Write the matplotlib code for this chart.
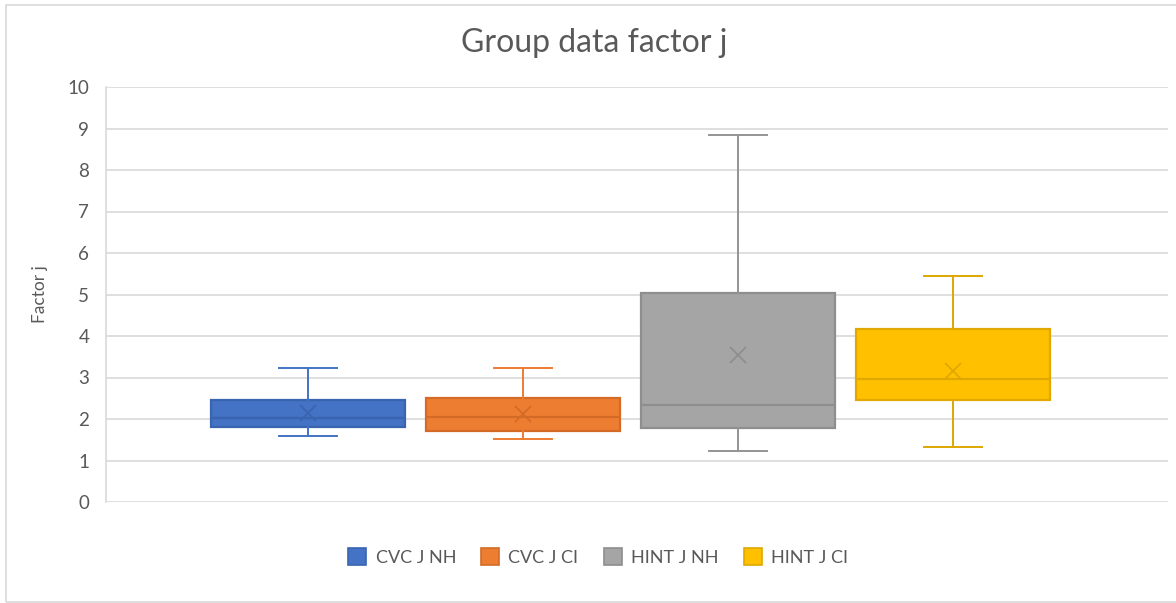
#!/usr/bin/env python3
import matplotlib
matplotlib.use("Agg")
import matplotlib.pyplot as plt
from matplotlib.patches import Patch, Rectangle

plt.rcParams["font.family"] = ["Lato", "DejaVu Sans"]

# five-number summaries + mean per group
groups  = ["CVC J NH", "CVC J CI", "HINT J NH", "HINT J CI"]
w_low   = [1.59, 1.51, 1.24, 1.32]
q1      = [1.81, 1.71, 1.79, 2.45]
median  = [2.02, 2.06, 2.34, 2.96]
q3      = [2.46, 2.50, 5.04, 4.18]
w_high  = [3.24, 3.24, 8.84, 5.44]
means   = [2.14, 2.11, 3.54, 3.16]

fills   = ["#4472C4", "#ED7D31", "#A5A5A5", "#FFC000"]
edges   = ["#3A64B0", "#D36B27", "#8E8E8E", "#E0A800"]
whisk   = ["#4472C4", "#ED7D31", "#949494", "#DDA700"]

TXT = "#595959"
GRID = "#D9D9D9"

fig = plt.figure(figsize=(11.76, 6.03), dpi=100)
ax = fig.add_axes([106/1176, 1 - 502/603, (1168-106)/1176, (502-87)/603])

pos = [0, 1, 2, 3]
for i in range(len(groups)):
    st = dict(whislo=w_low[i], q1=q1[i], med=median[i], q3=q3[i],
              whishi=w_high[i], mean=means[i], fliers=[], label=groups[i])
    ax.bxp([st], positions=[pos[i]], widths=0.905, patch_artist=True,
           showmeans=True, showfliers=False,
           boxprops=dict(facecolor=fills[i], edgecolor=edges[i], linewidth=1.6),
           medianprops=dict(color=edges[i], linewidth=1.6),
           whiskerprops=dict(color=whisk[i], linewidth=1.4),
           capprops=dict(color=whisk[i], linewidth=1.4),
           capwidths=0.27,
           meanprops=dict(marker="x", markersize=11, markeredgewidth=1.3,
                          markeredgecolor=edges[i]))

ax.set_ylim(0, 10)
ax.set_yticks(range(0, 11))
ax.set_xlim(-0.94, 4.0)
ax.set_xticks([])
ax.yaxis.grid(True, color=GRID, linewidth=1.2)
ax.set_axisbelow(True)
for s in ["top", "right", "bottom"]:
    ax.spines[s].set_visible(False)
ax.spines["left"].set_color(GRID)
ax.spines["left"].set_linewidth(1.2)
ax.tick_params(axis="y", length=0, pad=12, labelsize=13.5, labelcolor=TXT)
ax.set_ylabel("Factor j", fontsize=12.5, color=TXT, labelpad=14)

fig.text(594/1176, 1 - 43/603, "Group data factor j", ha="center", va="center",
         fontsize=23, color=TXT)

handles = [Patch(facecolor=fills[i], edgecolor=edges[i], linewidth=1.2)
           for i in range(len(groups))]
fig.legend(handles, groups, loc="center", bbox_to_anchor=(598/1176, 1 - 557/603),
           ncol=4, frameon=False, fontsize=13, labelcolor=TXT,
           handlelength=1.0, handleheight=1.0, handletextpad=0.5, columnspacing=1.4)

# chart border
fig.patches.append(Rectangle((6/1176, 1 - 602/603), 1.1, (602-5)/603,
                             transform=fig.transFigure, fill=False,
                             edgecolor=GRID, linewidth=1.2))

fig.savefig("out.png", dpi=100)
